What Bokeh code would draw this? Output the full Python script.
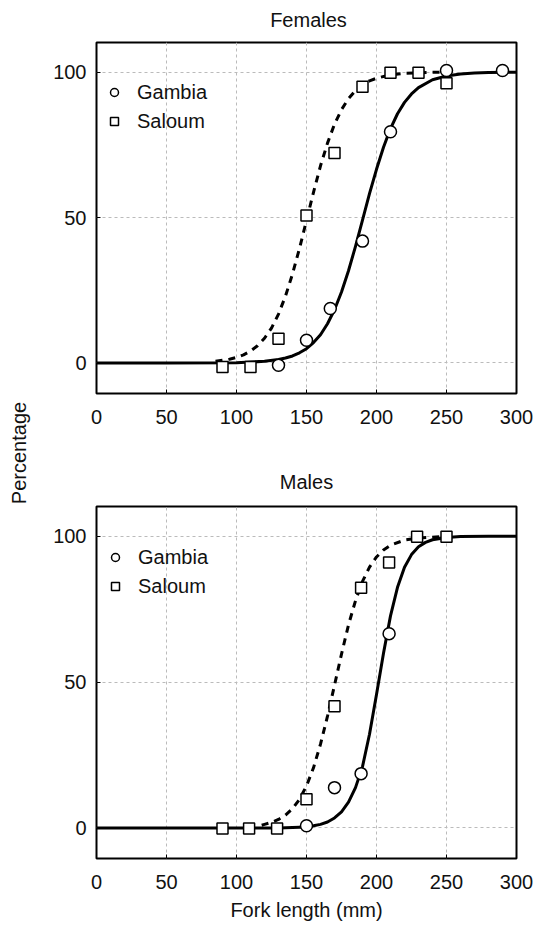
import math
from bokeh.plotting import figure
from bokeh.models import Range1d, Legend, LegendItem, Label
from bokeh.layouts import row, column
from bokeh.embed import file_html
from bokeh.resources import INLINE

FONT = "Liberation Sans"

# ---------------- data ----------------
x_ticks = [0, 50, 100, 150, 200, 250, 300]
y_ticks = [0, 50, 100]

# Females: observed points
f_gambia_x = [130, 150, 167, 190, 210, 250, 290]
f_gambia_y = [-0.8, 7.8, 18.7, 41.9, 79.5, 100.6, 100.6]
f_saloum_x = [90, 110, 130, 150, 170, 190, 210, 230, 250]
f_saloum_y = [-1.4, -1.4, 8.3, 50.7, 72.2, 95.0, 99.8, 99.8, 96.2]
# Females: fitted curves
f_gambia_fit_x = [0, 50, 100, 110, 120, 130, 135, 140, 145, 150, 155, 160, 165, 170, 175, 180,
                  185, 190, 195, 200, 205, 210, 215, 220, 225, 230, 240, 250, 260, 270, 280, 300]
f_gambia_fit_y = [0, 0, 0.1, 0.3, 0.6, 1.2, 1.7, 2.4, 3.5, 4.9, 7.0, 9.7, 13.5, 18.3, 24.4, 31.7,
                  40.1, 49.1, 58.2, 66.6, 74.2, 80.6, 85.7, 89.6, 92.5, 94.7, 97.4, 98.7, 99.4, 99.7, 99.9, 100]
f_saloum_fit_x = [85, 90, 95, 100, 105, 110, 115, 120, 125, 130, 135, 140, 145, 150, 155, 160,
                  165, 170, 175, 180, 185, 190, 195, 200, 210, 220, 230, 245]
f_saloum_fit_y = [0.6, 0.9, 1.3, 1.9, 2.8, 4.1, 5.9, 8.5, 12.0, 16.8, 23.0, 30.6, 39.4, 49.0, 58.7, 67.8,
                  75.6, 82.1, 87.1, 90.9, 93.7, 95.6, 97.0, 97.9, 99.1, 99.6, 99.8, 100]

# Males: observed points
m_gambia_x = [150, 170, 189, 209]
m_gambia_y = [0.7, 13.8, 18.6, 66.6]
m_saloum_x = [90, 109, 129, 150, 170, 189, 209, 229, 250]
m_saloum_y = [-0.2, -0.2, -0.2, 9.8, 41.7, 82.3, 91.0, 99.8, 99.8]
# Males: fitted curves
m_gambia_fit_x = [0, 50, 100, 130, 140, 150, 155, 160, 165, 170, 175, 180, 185, 190, 195, 200,
                  205, 210, 215, 220, 225, 230, 235, 240, 250, 260, 280, 300]
m_gambia_fit_y = [0, 0, 0, 0, 0.1, 0.3, 0.7, 1.2, 2.0, 3.4, 5.5, 8.8, 13.8, 21.0, 32.1, 45.7,
                  59.9, 72.7, 82.5, 89.4, 93.7, 96.4, 97.9, 98.8, 99.6, 99.9, 100, 100]
m_saloum_fit_x = [118, 120, 125, 130, 135, 140, 145, 150, 155, 160, 165, 170, 175, 180, 185, 190,
                  195, 200, 205, 210, 220, 230, 245]
m_saloum_fit_y = [0.9, 1.2, 1.9, 2.9, 4.4, 6.6, 9.8, 14.4, 20.6, 28.7, 38.3, 48.9, 59.6, 69.6, 77.9, 84.5,
                  89.4, 92.9, 95.3, 96.9, 98.7, 99.4, 99.8]

series_labels = ["Gambia", "Saloum"]
panel_titles = ["Females", "Males"]


def make_panel(title, gx, gy, sx, sy, gfx, gfy, sfx, sfy, height, b_top, b_bottom, b_left, b_right,
               legend_loc, xlabel=None):
    p = figure(width=501, height=height, x_range=Range1d(0, 300), y_range=Range1d(-10.5, 110.2),
               output_backend="svg", toolbar_location=None,
               min_border_top=b_top, min_border_bottom=b_bottom,
               min_border_left=b_left, min_border_right=b_right)
    p.background_fill_color = "white"
    p.border_fill_color = "white"
    p.outline_line_color = "black"
    p.outline_line_width = 2

    if title:
        p.title.text = title
        p.title.align = "center"
        p.title.text_font = FONT
        p.title.text_font_size = "20px"
        p.title.text_font_style = "normal"
        p.title.text_color = "#111111"
        p.title.standoff = 28

    p.xaxis.ticker = x_ticks
    p.yaxis.ticker = y_ticks
    for ax in (p.xaxis, p.yaxis):
        ax.axis_line_color = None
        ax.major_tick_in = 4
        ax.major_tick_out = 0
        ax.major_tick_line_color = "black"
        ax.minor_tick_line_color = None
        ax.major_label_text_font = FONT
        ax.major_label_text_font_size = "20px"
        ax.major_label_text_color = "#111111"
    p.xaxis.major_label_standoff = 16
    p.yaxis.major_label_standoff = 10
    if xlabel:
        p.xaxis.axis_label = xlabel
        p.xaxis.axis_label_text_font = FONT
        p.xaxis.axis_label_text_font_size = "20px"
        p.xaxis.axis_label_text_font_style = "normal"
        p.xaxis.axis_label_text_color = "#111111"
        p.xaxis.axis_label_standoff = 7

    p.grid.grid_line_color = "#bbbbbb"
    p.grid.grid_line_dash = "3 3"
    p.grid.grid_line_width = 1

    p.line(gfx, gfy, line_color="black", line_width=3, line_join="round")
    p.line(sfx, sfy, line_color="black", line_width=3, line_dash="7 6")
    rg = p.scatter(gx, gy, marker="circle", size=12, fill_color="white", line_color="black", line_width=1.5)
    rs = p.scatter(sx, sy, marker="square", size=11, fill_color="white", line_color="black", line_width=1.5)

    legend = Legend(items=[LegendItem(label=series_labels[0], renderers=[rg]),
                           LegendItem(label=series_labels[1], renderers=[rs])],
                    location=legend_loc, padding=0, margin=0, spacing=5,
                    glyph_width=20, glyph_height=24, label_height=24, label_standoff=13,
                    label_text_font=FONT, label_text_font_size="20px", label_text_color="#111111",
                    background_fill_alpha=0, border_line_alpha=0)
    p.add_layout(legend)
    return p


def text_strip(width, height, text, x, y, angle=0.0):
    f = figure(width=width, height=height, x_range=Range1d(0, 1), y_range=Range1d(0, 1),
               output_backend="svg", toolbar_location=None,
               x_axis_location=None, y_axis_location=None, min_border=0)
    f.grid.visible = False
    f.outline_line_color = None
    f.add_layout(Label(x=x, y=y, x_units="screen", y_units="screen", text=text,
                       angle=angle, text_align="center", text_baseline="middle",
                       text_font=FONT, text_font_size="20px", text_color="#111111"))
    return f


# title strip above the upper panel (its frame is aligned with the panel frames below,
# so x is measured from the panel's left frame edge)
ttl_top = text_strip(501, 30, panel_titles[0], 212, 30 - 19)

top = make_panel(None, f_gambia_x, f_gambia_y, f_saloum_x, f_saloum_y,
                 f_gambia_fit_x, f_gambia_fit_y, f_saloum_fit_x, f_saloum_fit_y,
                 height=420, b_top=12, b_bottom=57, b_left=60, b_right=19, legend_loc=(8, 260))
bot = make_panel(panel_titles[1], m_gambia_x, m_gambia_y, m_saloum_x, m_saloum_y,
                 m_gambia_fit_x, m_gambia_fit_y, m_saloum_fit_x, m_saloum_fit_y,
                 height=477, b_top=56, b_bottom=69, b_left=58, b_right=21, legend_loc=(9, 260),
                 xlabel="Fork length (mm)")

lab = text_strip(36, 927, "Percentage", 18, 927 - 452.5, angle=math.pi / 2)

layout = row(lab, column(ttl_top, top, bot))
open("out.html", "w").write(file_html(layout, INLINE))
